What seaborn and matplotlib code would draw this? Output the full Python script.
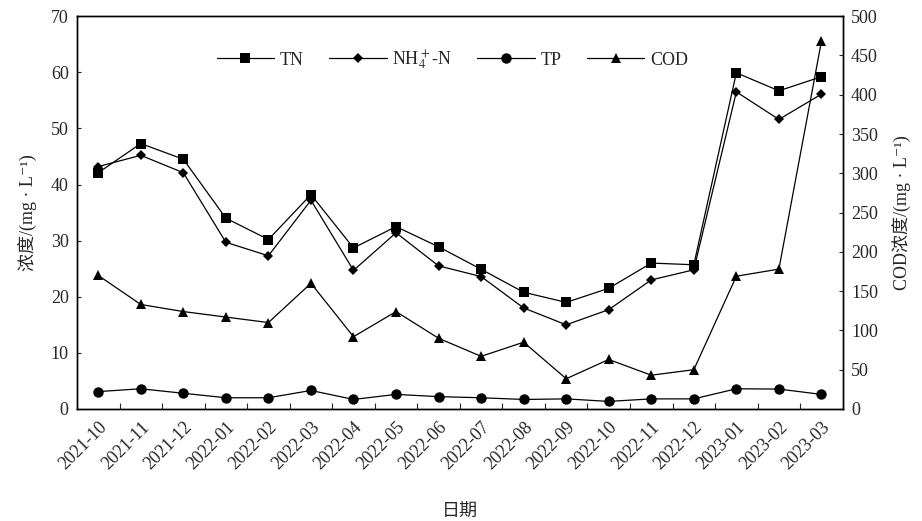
import numpy as np
import pandas as pd
import matplotlib
matplotlib.use('Agg')
import matplotlib.pyplot as plt
from matplotlib.lines import Line2D
import seaborn as sns

months = ['2021-10', '2021-11', '2021-12', '2022-01', '2022-02', '2022-03',
          '2022-04', '2022-05', '2022-06', '2022-07', '2022-08', '2022-09',
          '2022-10', '2022-11', '2022-12', '2023-01', '2023-02', '2023-03']
tn = [42.1, 47.3, 44.5, 34.0, 30.2, 38.2, 28.7, 32.5, 28.9,
      24.9, 20.8, 19.0, 21.5, 26.0, 25.7, 59.9, 56.7, 59.2]
nh4 = [43.2, 45.2, 42.1, 29.7, 27.3, 37.2, 24.7, 31.4, 25.5,
       23.6, 18.0, 15.0, 17.7, 23.0, 24.8, 56.5, 51.6, 56.1]
tp = [3.1, 3.6, 2.8, 2.0, 2.0, 3.3, 1.7, 2.6, 2.2,
      2.0, 1.7, 1.8, 1.35, 1.8, 1.8, 3.6, 3.55, 2.6]
cod = [170, 133, 124, 117, 110, 160, 92, 124, 90,
       67, 85, 38.5, 63, 43, 50, 169, 178, 468]

sns.set_style('white')
fonts = ['Liberation Serif', 'Noto Sans CJK SC', 'DejaVu Sans']
plt.rcParams['font.family'] = fonts
plt.rcParams['mathtext.fontset'] = 'stix'

df = pd.DataFrame({'pos': np.arange(len(months)), 'month': months,
                   'TN': tn, 'NH4': nh4, 'TP': tp, 'COD': cod})

fig = plt.figure(figsize=(9.22, 5.21), dpi=100)
ax = fig.add_axes([0.0835, 0.215, 0.8305, 0.754])
ax2 = ax.twinx()

lw = 0.9
sns.lineplot(data=df, x='pos', y='TN', ax=ax, color='black', lw=lw,
             marker='s', markersize=7, markeredgewidth=0)
sns.lineplot(data=df, x='pos', y='NH4', ax=ax, color='black', lw=lw,
             marker='D', markersize=5, markeredgewidth=0)
sns.lineplot(data=df, x='pos', y='TP', ax=ax, color='black', lw=lw,
             marker='o', markersize=7.5, markeredgewidth=0)
sns.lineplot(data=df, x='pos', y='COD', ax=ax2, color='black', lw=lw,
             marker='^', markersize=7, markeredgewidth=0)

ax.set_xlim(-0.5, len(months) - 0.5)
ax.set_ylim(0, 70)
ax2.set_ylim(0, 500)
ax.set_yticks(np.arange(0, 71, 10))
ax2.set_yticks(np.arange(0, 501, 50))

ax.set_xticks(df['pos'])
ax.set_xticklabels(months, rotation=45, ha='right', rotation_mode='anchor')
ax.set_xticks(np.arange(-0.5, len(months)), minor=True)
ax.tick_params(axis='x', which='major', length=0, pad=7, labelsize=13)
ax.tick_params(axis='x', which='minor', direction='in', length=4, width=0.8, bottom=True)
ax.tick_params(axis='y', direction='in', length=3, width=0.8, left=True, labelsize=13, pad=6)
ax2.tick_params(axis='y', direction='in', length=3, width=0.8, right=True, labelsize=13, pad=6)

for a in (ax, ax2):
    for s in a.spines.values():
        s.set_color('black')
        s.set_linewidth(1.0)

ax.set_xlabel('日期', fontsize=13, labelpad=22)
ax.set_ylabel('浓度/(mg · L⁻¹)', fontsize=13, labelpad=10)
ax2.set_ylabel('COD浓度/(mg · L⁻¹)', fontsize=13, labelpad=10)

handles = [
    Line2D([], [], color='black', lw=lw, marker='s', markersize=7, markeredgewidth=0),
    Line2D([], [], color='black', lw=lw, marker='D', markersize=5, markeredgewidth=0),
    Line2D([], [], color='black', lw=lw, marker='o', markersize=7.5, markeredgewidth=0),
    Line2D([], [], color='black', lw=lw, marker='^', markersize=7, markeredgewidth=0),
]
labels = ['TN', 'NH$_4^+$-N', 'TP', 'COD']
if ax2.get_legend() is not None:
    ax2.get_legend().remove()
ax.legend(handles, labels, loc='center', bbox_to_anchor=(0.49, 0.888), ncol=4,
          frameon=False, fontsize=13, handlelength=3.2, columnspacing=1.4,
          handletextpad=0.3)

fig.savefig('out.png', dpi=100)
